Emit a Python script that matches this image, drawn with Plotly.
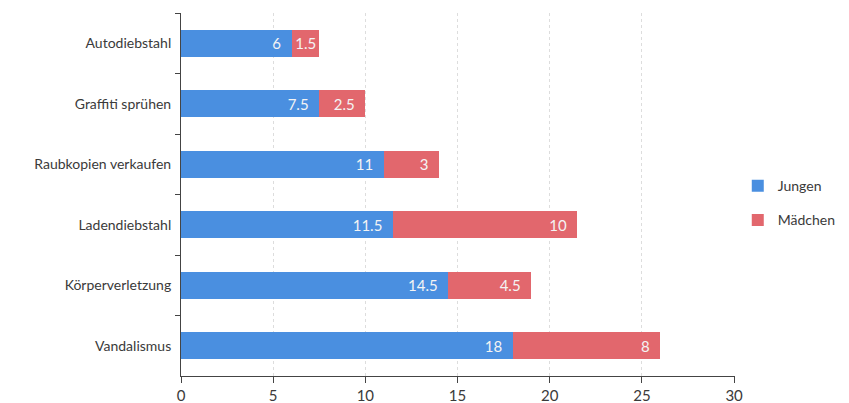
import plotly.graph_objects as go

# Kategorien (von oben nach unten) und Werte
kategorien = ["Autodiebstahl", "Graffiti sprühen", "Raubkopien verkaufen",
              "Ladendiebstahl", "Körperverletzung", "Vandalismus"]
jungen = [6, 7.5, 11, 11.5, 14.5, 18]
maedchen = [1.5, 2.5, 3, 10, 4.5, 8]
x_ticks = [0, 5, 10, 15, 20, 25, 30]

farben = {"Jungen": "#4A8FE0", "Mädchen": "#E2676D"}
schrift = "Lato"


def beschriftung(v):
    # geschützte Leerzeichen als Abstand zum Balkenende (nicht bei schmalen Segmenten)
    return f"{v:g}\u00a0\u00a0" if v >= 2 else f"{v:g}"


fig = go.Figure()
for name, werte in [("Jungen", jungen), ("Mädchen", maedchen)]:
    fig.add_trace(go.Bar(
        y=kategorien,
        x=werte,
        name=name,
        orientation="h",
        legendgroup=name,
        marker=dict(color=farben[name], line=dict(width=0)),
        text=[beschriftung(v) for v in werte],
        textposition="inside",
        insidetextanchor="end",
        constraintext="none",
        textfont=dict(color="#f4f4f4", size=15, family=schrift),
        width=0.45,
    ))

# Seite hat 8px Rand im Browser -> Figur etwas kleiner
fig.update_layout(
    barmode="stack",
    width=841, height=395,
    margin=dict(l=173, r=114, t=5, b=27, autoexpand=False),
    plot_bgcolor="white",
    paper_bgcolor="white",
    font=dict(family=schrift, size=14, color="#3a3a3a"),
    showlegend=True,
    legend=dict(
        x=1.005, y=0.476, xanchor="left", yanchor="middle",
        traceorder="grouped", tracegroupgap=13,
        font=dict(size=14, color="#3a3a3a"),
        itemwidth=30,
    ),
)

fig.update_xaxes(
    range=[0, 30.05],
    tickvals=x_ticks,
    ticks="outside", ticklen=6, tickcolor="#444",
    showline=True, linecolor="#444", linewidth=1,
    showgrid=True, gridcolor="#dddddd", griddash="dot", gridwidth=1,
    zeroline=False,
    tickfont=dict(size=15, color="#3a3a3a"),
    automargin=False,
)
fig.update_yaxes(
    categoryorder="array", categoryarray=kategorien,
    autorange="reversed",
    tickson="boundaries",
    ticks="outside", ticklen=5, tickcolor="#444",
    showline=True, linecolor="#444", linewidth=1,
    showgrid=False,
    ticklabelstandoff=6,
    tickfont=dict(size=14, color="#3a3a3a"),
    automargin=False,
)

fig.write_html("out.html")
